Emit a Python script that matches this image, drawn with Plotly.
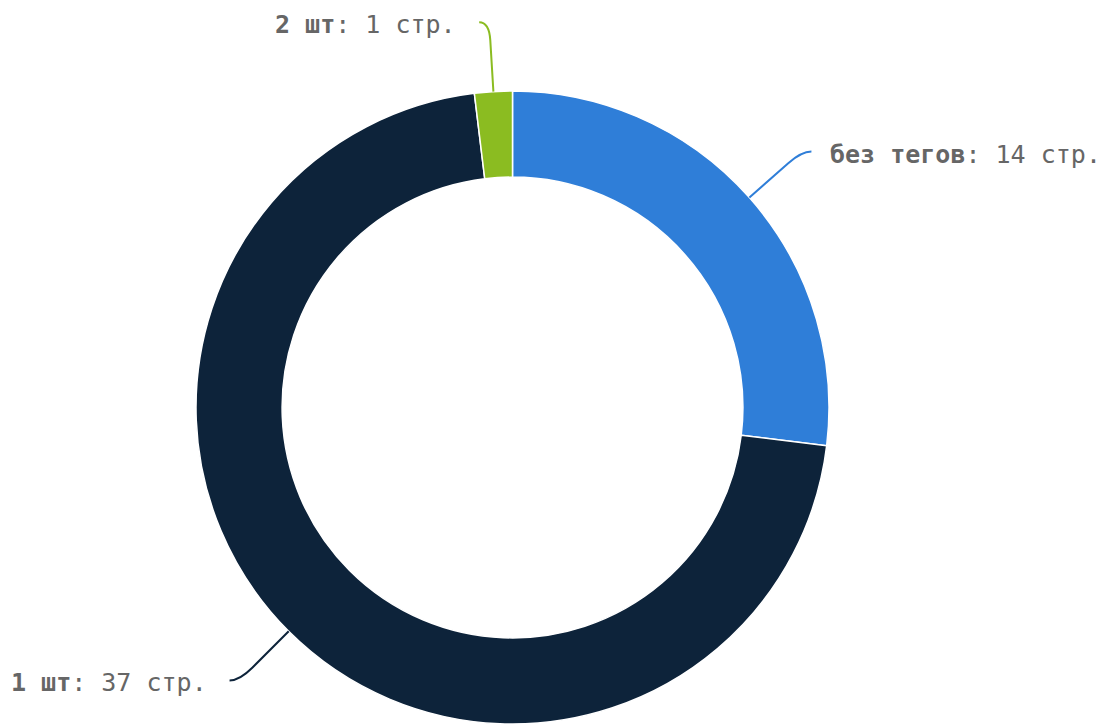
import math
import plotly.graph_objects as go

# ---- data ----
categories = ["без тегов", "1 шт", "2 шт"]
values = [14, 37, 1]
unit = "стр."
colors = ["#2f7ed8", "#0d233a", "#8bbc21"]

# ---- layout constants (pixels) ----
W, H = 1109, 724
CX, CY = 512.5, 407.5
R = 316.5
HOLE = 0.728
LABEL_R = 386.0      # radius at which label connector ends (vertical placement)
BEND = 18.0          # length of the rounded bend before the label
GAP_R, GAP_L = 17.0, 21.0
TEXT_DY = 2.5
FONT = "DejaVu Sans Mono"
FSIZE = 25
TXT = "#666666"

fig = go.Figure()
fig.add_trace(go.Pie(
    labels=categories, values=values, sort=False, direction="clockwise",
    rotation=0, hole=HOLE, textinfo="none", hoverinfo="label+value",
    marker=dict(colors=colors, line=dict(color="#ffffff", width=1.5)),
    domain=dict(x=[max((CX - R) / W, 0), min((CX + R) / W, 1)],
                y=[max(1 - (CY + R) / H, 0), min(1 - (CY - R) / H, 1)]),
    showlegend=False,
))

total = sum(values)
cum = 0.0
shapes = []
annotations = []
for cat, v, col in zip(categories, values, colors):
    mid = (cum + v / 2) / total * 2 * math.pi
    cum += v
    s, c = math.sin(mid), math.cos(mid)
    side = 1 if s >= 0 else -1
    ex, ey = CX + R * s, CY - R * c                  # landing point on pie
    kx, ky = CX + LABEL_R * s, CY - LABEL_R * c      # corner of connector
    bx, by = CX + (LABEL_R - BEND) * s, CY - (LABEL_R - BEND) * c
    lx, ly = kx + side * 10, ky                      # connector end near label
    path = f"M {lx},{ly} Q {kx},{ky} {bx},{by} L {ex},{ey}"
    shapes.append(dict(type="path", xref="x", yref="y", path=path,
                       line=dict(color=col, width=2)))
    annotations.append(dict(
        x=lx + (GAP_R if side > 0 else -GAP_L), y=ly + TEXT_DY,
        xref="x", yref="y",
        xanchor="left" if side > 0 else "right", yanchor="middle",
        text=f"<b>{cat}</b>: {v} {unit}", showarrow=False,
        font=dict(family=FONT, size=FSIZE, color=TXT)))

fig.update_layout(
    width=W, height=H, margin=dict(l=0, r=0, t=0, b=0),
    paper_bgcolor="#ffffff", plot_bgcolor="rgba(0,0,0,0)",
    xaxis=dict(range=[0, W], visible=False, fixedrange=True),
    yaxis=dict(range=[H, 0], visible=False, fixedrange=True),
    shapes=shapes, annotations=annotations,
)

fig.write_html("out.html", config={"displayModeBar": False},
               post_script="document.body.style.margin='0px';"
                           "document.body.style.overflow='hidden';")
